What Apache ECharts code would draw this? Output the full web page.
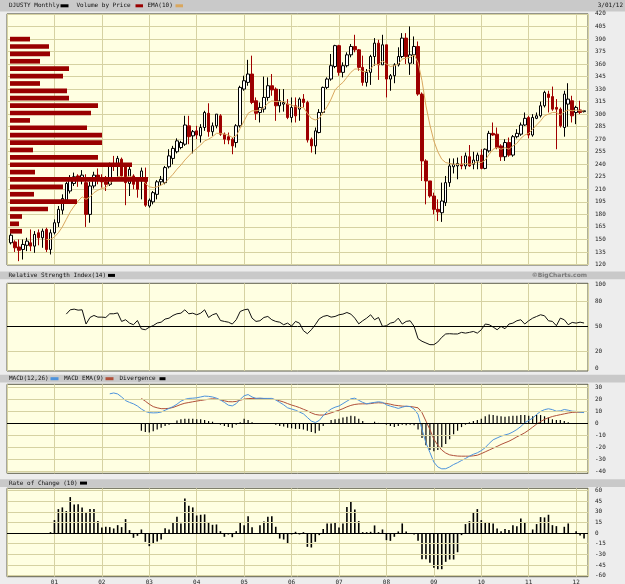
<!DOCTYPE html>
<html><head><meta charset="utf-8">
<script src="https://cdn.jsdelivr.net/npm/echarts@6/dist/echarts.min.js"></script>
<style>html,body{margin:0;padding:0;background:#ededed}#c{width:625px;height:584px}</style>
</head><body><div id="c"></div>
<script>
// months counted from Jan 2000 (= 0); first candle Feb 2000 (= 1), last Mar 2012 (= 146)
const firstMonth = 1;
const yearLabels = ['01','02','03','04','05','06','07','08','09','10','11','12'];

const open = [146,147,141,138,143,146,142,158,152,162, 138,158,170,185,197,208,217,226,221,218,
 180,214,227,223,219,216,241,238,246,237, 217,226,220,220,222,190,195,204,219,218,
 237,247,255,260,264,286,274,280,274,284, 301,279,286,298,276,273,270,266,286,330,
 338,348,316,302,306,320,334,330,310,312, 312,296,310,306,318,314,270,262,278,302,
 332,342,357,382,350,358,371,381,377,356, 338,350,369,385,359,383,342,346,359,369,
 391,361,371,381,324,244,220,202,186,182, 194,218,237,238,240,238,249,240,244,251,
 235,256,277,276,262,249,266,251,273,276, 287,296,275,295,298,310,324,321,308,306,
 284,312,316,302,305,303];
const high = [158,149,150,150,152,162,160,162,163,164, 162,174,190,204,219,227,230,228,233,228,
 219,231,235,228,226,242,250,250,248,240, 238,228,222,236,236,199,208,221,226,238,
 258,262,271,268,298,298,281,286,288,304, 313,290,300,300,278,278,272,288,334,346,
 365,370,320,314,345,344,348,332,330,330, 318,320,320,320,324,316,272,284,306,333,
 344,372,383,383,362,374,384,395,378,370, 354,371,391,389,395,383,348,361,380,397,
 397,405,393,387,326,246,220,206,198,218, 226,247,247,248,250,254,263,255,254,258,
 259,280,290,284,264,270,272,275,282,290, 302,298,300,302,315,328,328,333,318,308,
 328,337,322,310,316,305];
const low = [144,135,124,126,136,136,134,143,140,135, 132,156,165,180,195,205,214,213,216,165,
 170,211,216,212,208,214,232,225,222,191, 202,210,200,198,189,188,192,198,214,216,
 235,240,253,258,262,264,253,270,266,280, 273,274,283,274,264,264,252,260,284,328,
 334,312,293,290,302,316,322,292,302,303, 294,290,290,292,308,266,254,252,277,300,
 330,340,355,346,344,356,368,374,352,334, 333,335,358,341,359,320,328,337,357,367,
 360,347,360,322,220,192,200,180,172,171, 190,213,229,222,234,234,237,234,234,234,
 234,254,274,258,244,244,249,249,271,274, 286,271,273,294,296,308,302,304,258,284,
 273,285,290,288,300,302];
const close = [155,140,137,144,148,142,156,152,160,138, 158,170,186,199,217,223,225,221,227,180,
 214,227,223,219,216,240,238,247,226,218, 234,216,210,232,191,197,206,219,222,236,
 250,259,268,266,287,273,279,275,284,302, 279,286,300,276,270,269,262,286,332,340,
 348,314,301,308,320,334,329,310,316,314, 296,308,298,318,314,269,262,280,302,332,
 342,358,382,350,358,371,381,377,356,338, 350,369,385,359,383,342,346,359,369,391,
 369,371,381,324,244,220,202,186,183,196, 218,238,240,241,238,250,238,245,251,235,
 258,277,275,260,249,266,251,273,277,287, 295,275,296,298,310,326,320,306,306,286,
 324,318,298,308,302,304];

const emaStart = 10;
const ema10 = [150,150,153,158,165,174,183,190,196,201, 198,201,206,209,211,212,217,221,225,225,
 224,226,224,221,223,217,213,212,213,215, 218,223,228,234,239,245,250,255,259,263,
 268,270,273,277,277,276,275,272,274,283, 292,301,304,304,305,308,313,316,315,315,
 315,312,311,309,308,308,301,295,293,295, 302,309,318,329,334,338,344,350,354,354,
 351,351,354,360,359,364,360,357,358,360, 366,367,368,371,362,340,310,287,268,255,
 246,242,241,240,240,240,241,240,241,243, 242,245,252,258,260,258,260,258,262,265,
 271,275,277,282,287,292,298,300,302,302, 299,303,305,304,305,304,304];

const vbpPrice = [389.8,381.0,372.1,363.3,354.4,345.6,336.7,327.9,319.1,310.2,301.4,292.5,283.7,274.8,
 266.0,257.1,248.3,239.4,230.6,221.8,212.9,204.1,195.2,186.4,177.5,168.7,159.8];
const vbpVolume = [20,39,40,30,59,53,30,57,59,88,81,20,77,92,92,23,88,122,25,138,53,24,67,38,12,9,12];

const rsiStart = 15;
const rsi14 = [64.6,69.7,70.5,69.3,69.7,52.8,60.6,63,61,61, 60.6,65,65,66,55.9,57.9,53.9,52,57,47,
 46,49,51,54,55,58.7,59.8,63,65,65.7, 69.7,65,65.7,63.8,65.7,69.7,60.6,63.8,65.4,57,
 55.9,55,52.8,57.9,67.7,69.7,70.5,59.8,55.9,56.7, 60.6,61.8,57.9,55.9,55,52,53.9,50.4,55.9,53.9,
 44.9,41.3,46,52,59,61.8,63,61,61.8,63.8, 64.6,66.5,64.6,59.8,53,56.7,59.8,63.8,57.9,60.6,
 50,50.8,53.9,55,59.8,52.8,55.9,56.7,50,35.4, 32.3,30.3,28.3,28.3,31.5,37,41,41.3,41,41,
 42.9,42,42.9,44,42,46,52.8,52,49.2,46, 50,47.2,52.8,53.9,56.7,57.9,52.8,56.7,59.8,61.8,
 63.8,62.6,56.7,55.9,50.8,59.8,57.9,52,54.7,53.9, 55,54];

const macdStart = 26;
const macdLine = [24.6,25.3,24.5,22,19,17.5,16.3,14.5,12,10, 9,8.8,8.9,9.5,11,12.5,14,16,18.5,20,
 20.8,21,21.3,22,22.7,22.5,22,21,19.5,17.5, 15.2,14.6,16.5,20,23,24,22,20.8,21,20.8,
 20.8,20.8,19.5,17.5,15.5,13,12,11,9.5,8, 5,2,0.8,2.5,6.5,9.5,12,13.5,14.5,16.5,
 18.5,20.5,21,19.2,17.5,16.3,17,17.5,18,17.5, 15.5,14.4,13.5,12.5,13.5,14.4,14,12,7.5,-5,
 -16,-24,-32,-36,-37.6,-37.5,-36,-34,-32.5,-30.7, -29,-27.1,-25.5,-24.3,-22.5,-20,-16.5,-13.5,-12,-10.5,
 -9.5,-8.6,-7,-5,-2.5,0.6,2.5,4.5,7.5,10, 11.5,12.2,11.5,10.2,10.5,11.6,11,10.2,10,9.4, 9];
const signalStart = 34;
const macdSignal = [20.8,18.5,16,14,13,12.3,12.3,12.6,13.3,14.5, 15.8,16.8,17.4,18,18.6,19.1,19.6,20.1,20.5,20.3,
 19.6,18.8,18.1,18,18.3,19.3,20.2,20.6,20.8,20.8, 20.8,20.7,20.5,20.2,19.8,18.8,17.8,16.5,15.3,14.3,
 13.2,11.8,10.5,8.8,7.5,7,7,7.8,8.8,10, 11,12.3,13.8,15,15.8,16.2,16.3,16.3,16.5,17,
 17.2,17,16.6,16,15.2,14.8,14.4,14.2,14.1,13.6, 13,9,2,-5,-13,-18,-22,-24.5,-26,-26.6,
 -27,-27.1,-27.1,-27.1,-26.8,-26.3,-25,-23.5,-22,-20.5, -19,-17.4,-16,-14.7,-13,-11.1,-9.5,-7.7,-5.5,-3,
 -0.5,1.5,3.5,4.7,5.8,6.6,7.3,8,8.7,9.2, 9.4,9.4,9.4];
const divergence = [-6,-7,-7.5,-6.5,-5,-3.5,-2,-1,0,2.5, 3.5,4,4,4,3.5,3.5,3,2,1.5,0,
 -1,-2,-3,-3.5,-1,1,4,3,1,0, -0.5,0,0,-0.5,-1,-2,-2.5,-3.5,-4,-4.5,
 -4.5,-5,-6,-7,-8,-6,-2,0,3,3.5, 4,5,5.5,6.5,6,4,2,0.5,0,1.5,
 0.5,0,-1,-2,-3,-2,-1,-1.5,-1,-1.5, -5,-12,-18,-22,-23,-22,-20,-17,-13,-9,
 -6,-3,-1,1,2,3,4,6,7.5,7, 6.5,6,5.5,6,6.5,6.5,7,7,6.5,6,
 7,7,6,5,3.5,3,3,2,1,0.5, 0,0,0];

const rocStart = 11;
const roc10 = [1.4,18.4,34,36.4,31.2,51,40.6,41,36.4,29.8, 34,34,17,8,9,8.5,6.6,11.3,8.5,19.8,
 4.3,-6.6,-3.8,5.2,-12.3,-18.4,-14.6,-11.8,-9,7, 5.2,15.6,23,13.7,49,38.7,36.4,25,26,26.5,
 15,11.8,12.3,2.8,-5.2,-1.9,-5.7,2.8,15.6,11.3, 24,8.5,0,11.3,16.5,23,24,9,-7.6,-9,
 -15,-1.9,1.9,-1.9,1.4,-19.4,-20.3,-12.3,-2.8,5.7, 13.7,13.7,15,8,13.7,36.8,44,33.5,17,1.4,
 1.4,1.9,10.9,1.4,5.2,-9.9,-10.9,-5.2,2.4,13.7, 2.4,-0.5,-1.9,-10.9,-36.8,-36.8,-42,-49,-51,-51,
 -40.6,-37.3,-37.3,-27,-2.8,12.8,17,28.8,34,18.4, 15.6,15.6,13.7,6.6,2.8,5.7,4.3,11.3,9.9,20.8,
 14.6,0,5.2,12.8,22.7,22.2,26,11.3,9.9,0, 9,13.7,0,2.8,-3.3,-7.6];

const priceLabels = [120,135,150,165,180,195,210,225,240,255,270,285,300,315,330,345,360,375,390,405,420];
const rsiLabels = [0,20,50,80,100], rsiGrid = [20,80], rsiMid = 50;
const macdLabels = [-40,-30,-20,-10,0,10,20,30], macdGrid = [-40,-30,-20,-10,10,20,30];
const rocLabels = [-60,-45,-30,-15,0,15,30,45,60], rocGrid = [-60,-45,-30,-15,15,30,45,60];

// ---------------------------------------------------------------
const FONT = 'DejaVu Sans Mono';
const GRIDC = '#d6d2a2';
const PLOTBG = '#ffffe2';
const withX = (start, arr) => arr.map((v, i) => [start + i, v]);
const candles = open.map((o, i) => [firstMonth + i, o, close[i], low[i], high[i]]);

const L = 7, W = 581;
const grids = [
  {left:L, top:13.9, width:W, height:251.1},
  {left:L, top:283.3, width:W, height:87.7},
  {left:L, top:384.3, width:W, height:89},
  {left:L, top:488.3, width:W, height:88.4}
].map(g => Object.assign(g, {show:true, backgroundColor:PLOTBG, borderColor:'#5e5e4c', borderWidth:1, containLabel:false, outerBoundsMode:'none'}));

function xAx(g, labels) {
  return {type:'value', gridIndex:g, min:0, max:147, interval:12,
    axisLine:{show:false}, axisTick:{show:false},
    axisLabel:{show:labels, fontFamily:FONT, fontSize:6, color:'#222', margin:3,
      formatter: v => (v > 0 && v % 12 === 0) ? yearLabels[v/12 - 1] : ''},
    splitLine:{show:true, lineStyle:{color:GRIDC, width:1}}};
}
function yAx(g, mn, mx, labels, split) {
  return {type:'value', gridIndex:g, position:'right', min:mn, max:mx,
    axisLine:{show:false}, axisTick:{show:false, customValues:labels},
    axisLabel:{customValues:labels, fontFamily:FONT, fontSize:6, color:'#222', margin:7,
      showMinLabel:true, showMaxLabel:true, hideOverlap:false},
    splitLine:{show:!!split, lineStyle:{color:GRIDC, width:1}}};
}
const yAxes = [
  yAx(0, 119.4, 420, priceLabels, true),
  yAx(1, -3, 101.2, rsiLabels),
  yAx(2, -41.3, 32.5, macdLabels),
  yAx(3, -61.6, 63.4, rocLabels)
];
const xAxes = [xAx(0,false), xAx(1,false), xAx(2,false), xAx(3,true),
  {type:'value', gridIndex:0, min:-3, max:578, show:false}];

function lines(vals, color, extra) {
  const d = vals.map(v => ({yAxis:v, lineStyle:{color:color, width:1, type:'solid'}}));
  if (extra != null) d.push({yAxis:extra, lineStyle:{color:'#000', width:1, type:'solid'}});
  return {silent:true, symbol:'none', label:{show:false}, animation:false, data:d};
}

const half = 2.8;
const series = [
  {type:'candlestick', xAxisIndex:0, yAxisIndex:0, data:candles, encode:{x:0, y:[1,2,3,4]}, barWidth:3, z:2,
    itemStyle:{color:'#ffffff', color0:'#990000', borderColor:'#000000', borderColor0:'#a00000', borderWidth:1}},
  {type:'line', xAxisIndex:0, yAxisIndex:0, data:withX(emaStart, ema10), symbol:'none', z:3,
    lineStyle:{color:'#d9a75e', width:1}},
  {type:'custom', xAxisIndex:4, yAxisIndex:0, z:4,
    data: vbpPrice.map((p, i) => [vbpVolume[i], p]), encode:{x:0, y:1},
    renderItem: (params, api) => {
      const v = api.value(0), p = api.value(1);
      const a = api.coord([0, p + half]), b = api.coord([v, p - half]);
      return {type:'rect', shape:{x:a[0], y:a[1], width:b[0]-a[0], height:b[1]-a[1]}, style:{fill:'#990000'}};
    }},
  {type:'line', xAxisIndex:1, yAxisIndex:1, data:withX(rsiStart, rsi14), symbol:'none', z:3,
    lineStyle:{color:'#111', width:1}, markLine:lines(rsiGrid, GRIDC, rsiMid)},
  {type:'bar', xAxisIndex:2, yAxisIndex:2, data:withX(signalStart, divergence), barWidth:1.2, z:2,
    itemStyle:{color:'#000'}, markLine:lines(macdGrid, GRIDC, 0)},
  {type:'line', xAxisIndex:2, yAxisIndex:2, data:withX(signalStart, macdSignal), symbol:'none', z:3,
    lineStyle:{color:'#b0503a', width:1}},
  {type:'line', xAxisIndex:2, yAxisIndex:2, data:withX(macdStart, macdLine), symbol:'none', z:4,
    lineStyle:{color:'#4d93dc', width:1}},
  {type:'bar', xAxisIndex:3, yAxisIndex:3, data:withX(rocStart, roc10), barWidth:1.6, z:3,
    itemStyle:{color:'#000'}, markLine:lines(rocGrid, GRIDC, 0)}
];

function band(y, h) { return {type:'rect', shape:{x:0, y:y, width:625, height:h}, style:{fill:'#c9c9c9'}, silent:true, z:-10}; }
function txt(x, y, s, opt) { return {type:'text', x:x, y:y, silent:true, style:Object.assign({text:s, fill:'#111', font:'6px "DejaVu Sans Mono"', align:'left', verticalAlign:'middle'}, opt||{})}; }
function dash(x, y, w, c) { return {type:'rect', shape:{x:x, y:y-1.5, width:w, height:3}, style:{fill:c}, silent:true}; }

const graphic = [
  band(0, 11.5), txt(9, 5.8, 'DJUSTY Monthly'), dash(60.5, 5.8, 8, '#000'),
  txt(76.5, 5.8, 'Volume by Price'), dash(135.5, 5.8, 7.5, '#990000'),
  txt(147.5, 5.8, 'EMA(10)'), dash(175.5, 5.8, 7.5, '#d9a75e'),
  txt(623, 5.8, '3/01/12', {align:'right'}),
  band(271.5, 7.8), txt(8.5, 275.4, 'Relative Strength Index(14)'), dash(108, 275.4, 7, '#000'),
  txt(587, 275.4, '\u00a9BigCharts.com', {align:'right', fill:'#7a7a7a', font:'bold 6px "DejaVu Sans"'}),
  band(374.8, 7.8), txt(9, 378.7, 'MACD(12,26)'), dash(50.5, 378.7, 8, '#4d93dc'),
  txt(64, 378.7, 'MACD EMA(9)'), dash(105.5, 378.7, 8, '#b0503a'),
  txt(119.5, 378.7, 'Divergence'), dash(159.5, 378.7, 6, '#000'),
  band(479.3, 7.6), txt(9, 483.1, 'Rate of Change (10)'), dash(80, 483.1, 7, '#000')
];

const chart = echarts.init(document.getElementById('c'), null, {renderer:'canvas'});
chart.setOption({animation:false, backgroundColor:'#ededed', grid:grids, xAxis:xAxes, yAxis:yAxes, series:series, graphic:graphic});
</script>
</body></html>
